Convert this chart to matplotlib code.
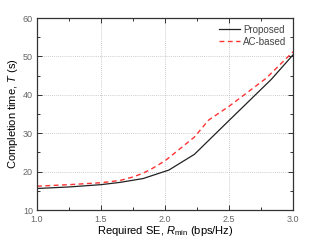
import matplotlib
matplotlib.use("Agg")
import matplotlib.pyplot as plt
from matplotlib.ticker import MultipleLocator, FormatStrFormatter

plt.rcParams['font.family'] = ['Liberation Sans', 'DejaVu Sans']
plt.rcParams['mathtext.fontset'] = 'custom'
plt.rcParams['mathtext.rm'] = 'Liberation Sans'
plt.rcParams['mathtext.it'] = 'Liberation Sans:italic'

prop_x = [1.0, 1.25, 1.5, 1.65, 1.83, 2.03, 2.23, 2.5, 2.83, 3.0]
prop_y = [15.6, 16.0, 16.6, 17.2, 18.2, 20.4, 24.5, 33.3, 44.0, 50.4]
ac_x = [1.0, 1.25, 1.5, 1.65, 1.75, 1.83, 1.9, 2.0, 2.23, 2.34, 2.5, 2.79, 3.0]
ac_y = [16.2, 16.6, 17.1, 17.7, 18.6, 19.6, 20.8, 22.8, 29.0, 33.4, 37.0, 44.3, 51.2]

fig = plt.figure(figsize=(3.14, 2.42), dpi=100)
ax = fig.add_axes([37/314, 1 - 210/242, (293-37)/314, (210-18)/242])

ax.plot(prop_x, prop_y, color='#222222', lw=0.9, label='Proposed')
ax.plot(ac_x, ac_y, color='#ff3333', lw=1.0, ls=(0, (3.5, 2.5)), label='AC-based')

ax.set_xlim(1.0, 3.0)
ax.set_ylim(10, 60)
ax.xaxis.set_major_locator(MultipleLocator(0.5))
ax.xaxis.set_minor_locator(MultipleLocator(0.25))
ax.yaxis.set_major_locator(MultipleLocator(10))
ax.yaxis.set_minor_locator(MultipleLocator(5))
ax.xaxis.set_major_formatter(FormatStrFormatter('%.1f'))

ax.grid(True, which='major', color='#bbbbbb', ls=(0, (1, 1.5)), lw=0.6)
ax.tick_params(which='both', direction='in', top=True, right=True, color='#333333', width=0.7)
ax.tick_params(which='major', length=3.5, labelsize=6.5, labelcolor='#666666')
ax.tick_params(axis='x', which='major', pad=3.5)
ax.tick_params(axis='y', which='major', pad=3)
ax.tick_params(which='minor', length=2)
for s in ax.spines.values():
    s.set_linewidth(0.9)
    s.set_color('#333333')

ax.set_xlabel(r'Required SE, $\mathit{R}_{\mathrm{min}}$ (bps/Hz)', fontsize=8, labelpad=0)
ax.set_ylabel(r'Completion time, $\mathit{T}$ (s)', fontsize=8, labelpad=2)

leg = ax.legend(loc='upper right', frameon=False, fontsize=7, handlelength=2.2,
                handletextpad=0.3, labelspacing=0.2, borderaxespad=0.3)
for t in leg.get_texts():
    t.set_color('#444444')

fig.savefig('out.png', dpi=100)
